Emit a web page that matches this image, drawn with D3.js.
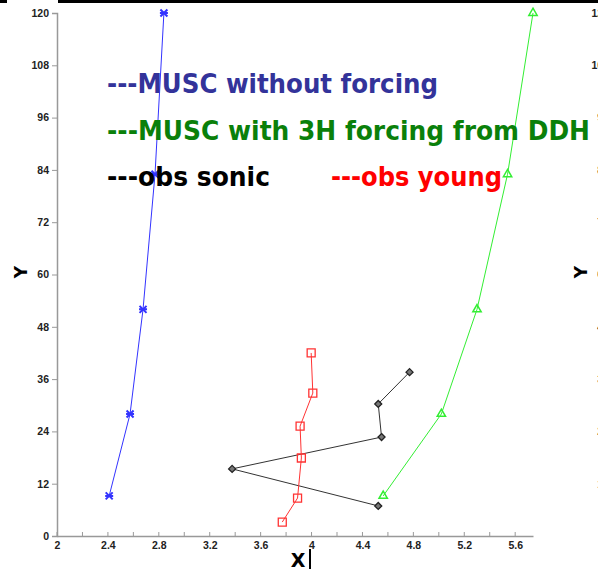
<!DOCTYPE html>
<html>
<head>
<meta charset="utf-8">
<script src="https://cdn.jsdelivr.net/npm/d3@7"></script>
<style>
  body { margin: 0; background: #fff; }
  svg { display: block; }
</style>
</head>
<body>
<div id="chart"></div>
<script>
// series (x, y)
const noForcingX = [2.41, 2.574, 2.676, 2.77, 2.84];
const noForcingY = [9.2, 28, 52, 83, 120];
const forcingX = [4.563, 5.02, 5.30, 5.54, 5.74];
const forcingY = [9.2, 28, 52, 83, 120];
const sonicX = [4.77, 4.524, 4.55, 3.376, 4.524];
const sonicY = [37.6, 30.3, 22.7, 15.4, 6.9];
const youngX = [3.997, 4.01, 3.91, 3.92, 3.89, 3.77];
const youngY = [42, 32.8, 25.2, 17.9, 8.7, 3.2];

const xTicks = [2, 2.4, 2.8, 3.2, 3.6, 4, 4.4, 4.8, 5.2, 5.6];
const xMinor = d3.range(2, 5.75, 0.2);
const yTicks = [0, 12, 24, 36, 48, 60, 72, 84, 96, 108, 120];

const legendLines = [
  {text: "---MUSC without forcing", color: "#33339a", x: 107, y: 93, len: 331},
  {text: "---MUSC with 3H forcing from DDH", color: "#0a800a", x: 107, y: 140, len: 483},
  {text: "---obs sonic", color: "#000", x: 107, y: 186, len: 163},
  {text: "---obs young", color: "#f00", x: 331, y: 186, len: 171}
];

const width = 598, height = 569;
const svg = d3.select("#chart").append("svg")
  .attr("width", width).attr("height", height);

// black strip at the top of the screenshot
svg.append("rect").attr("x", 0).attr("y", 0).attr("width", 7).attr("height", 3).attr("fill", "#000");
svg.append("rect").attr("x", 58).attr("y", 0).attr("width", 540).attr("height", 3).attr("fill", "#000");

const x = d3.scaleLinear().domain([2, 5.74]).range([57, 533]);
const y = d3.scaleLinear().domain([0, 120]).range([536, 13]);

function drawYAxis(g) {
  const ax = g.append("g").attr("transform", `translate(${x(2)},0)`)
    .call(d3.axisLeft(y).tickValues(yTicks).tickSize(5).tickPadding(3).tickFormat(d3.format("d")));
  ax.select(".domain").attr("stroke", "#999").attr("stroke-width", 1.5);
  ax.selectAll(".tick line").attr("stroke", "#999");
  ax.selectAll("text").attr("font-family", "Liberation Sans, Arial, sans-serif")
    .attr("font-size", 10.5).attr("font-weight", "bold").attr("fill", "#222");
  g.append("text")
    .attr("transform", "translate(27,272) rotate(-90)")
    .attr("text-anchor", "middle")
    .attr("font-family", "DejaVu Sans, sans-serif").attr("font-weight", "bold")
    .attr("font-size", 17).text("Y");
}

const panel = svg.append("g");
drawYAxis(panel);

// neighbouring panel, only its left labels are in view
const panel2 = svg.append("g").attr("transform", "translate(560,0)");
drawYAxis(panel2);

// x axis
const xa = panel.append("g").attr("transform", `translate(0,${y(0)})`)
  .call(d3.axisBottom(x).tickValues(xTicks).tickSize(0).tickPadding(6)
    .tickFormat(d => d3.format("")(+d.toFixed(1))));
xa.select(".domain").attr("stroke", "#999").attr("stroke-width", 1.5);
xa.selectAll("text").attr("font-family", "Liberation Sans, Arial, sans-serif")
  .attr("font-size", 10.5).attr("font-weight", "bold").attr("fill", "#222");
panel.append("g").selectAll("line").data(xMinor).join("line")
  .attr("x1", d => x(d)).attr("x2", d => x(d))
  .attr("y1", y(0)).attr("y2", y(0) - 4)
  .attr("stroke", "#999");

panel.append("text").attr("x", 298).attr("y", 567).attr("text-anchor", "middle")
  .attr("font-family", "DejaVu Sans, sans-serif").attr("font-weight", "bold")
  .attr("font-size", 19).text("X");
panel.append("rect").attr("x", 309).attr("y", 549).attr("width", 2).attr("height", 20).attr("fill", "#000");

// series
const line = d3.line().x(d => x(d[0])).y(d => y(d[1]));
const series = [
  {xs: noForcingX, ys: noForcingY, color: "#3333ff", marker: "star"},
  {xs: forcingX, ys: forcingY, color: "#33ee33", marker: "triangle"},
  {xs: sonicX, ys: sonicY, color: "#333", marker: "diamond"},
  {xs: youngX, ys: youngY, color: "#ff3333", marker: "square"}
];

series.forEach(s => {
  const pts = s.xs.map((v, i) => [v, s.ys[i]]);
  panel.append("path").datum(pts).attr("d", line)
    .attr("fill", "none").attr("stroke", s.color).attr("stroke-width", 1);
  const m = panel.append("g").selectAll("path").data(pts).join("path")
    .attr("transform", d => `translate(${x(d[0])},${y(d[1])})`)
    .attr("fill", "none").attr("stroke", s.color).attr("stroke-width", 1.5);
  if (s.marker === "star") {
    m.attr("d", "M-3.5,-3.5L3.5,3.5M-3.5,3.5L3.5,-3.5M-4,0L4,0").attr("stroke-width", 2);
  } else if (s.marker === "triangle") {
    m.attr("d", d3.symbol(d3.symbolTriangle, 30)());
  } else if (s.marker === "diamond") {
    m.attr("d", "M0,-3.5L3.5,0L0,3.5L-3.5,0Z").attr("fill", "#777").attr("stroke", "#222").attr("stroke-width", 1.3);
  } else {
    m.attr("d", "M-4,-4H4V4H-4Z").attr("stroke-width", 1.3);
  }
});

// legend text
panel.append("g").selectAll("text").data(legendLines).join("text")
  .attr("x", d => d.x).attr("y", d => d.y)
  .attr("textLength", d => d.len).attr("lengthAdjust", "spacingAndGlyphs")
  .attr("fill", d => d.color)
  .attr("font-family", "DejaVu Sans, sans-serif").attr("font-weight", "bold")
  .attr("font-size", 26)
  .text(d => d.text);
</script>
</body>
</html>
